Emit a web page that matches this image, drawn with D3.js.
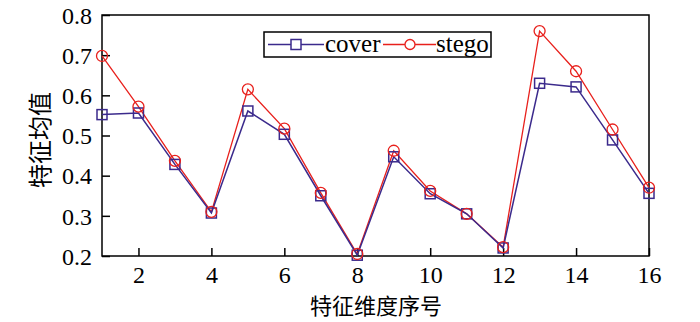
<!DOCTYPE html>
<html>
<head>
<meta charset="utf-8">
<script src="https://cdn.jsdelivr.net/npm/d3@7"></script>
<style>
  body { margin: 0; background: #fff; }
  svg { display: block; }
  .serif { font-family: "Liberation Serif", "Times New Roman", "DejaVu Serif", serif; }
  .cjk { font-family: "Noto Sans CJK SC", "Noto Sans CJK JP", sans-serif; }
</style>
</head>
<body>
<div class="line-chart-card"></div>
<script>
let dims = d3.range(1, 17);
let coverValues = [0.552, 0.556, 0.428, 0.307, 0.561, 0.503, 0.350, 0.202, 0.447, 0.355, 0.305, 0.220, 0.630, 0.621, 0.489, 0.356];
let stegoValues = [0.698, 0.572, 0.437, 0.310, 0.615, 0.517, 0.357, 0.205, 0.462, 0.362, 0.305, 0.222, 0.760, 0.660, 0.515, 0.370];
let xTicks = [2, 4, 6, 8, 10, 12, 14, 16];
let yTicks = [0.2, 0.3, 0.4, 0.5, 0.6, 0.7, 0.8];

let width = 700, height = 322;
let plotLeft = 102, plotRight = 649, plotTop = 15, plotBottom = 256;

let svg = d3.select(".line-chart-card")
    .append("svg")
    .attr("width", width)
    .attr("height", height);

let xScale = d3.scaleLinear().domain([1, 16]).range([plotLeft, plotRight]);
let yScale = d3.scaleLinear().domain([0.2, 0.8]).range([plotBottom, plotTop]);

// frame
svg.append("rect")
    .attr("x", plotLeft).attr("y", plotTop)
    .attr("width", plotRight - plotLeft).attr("height", plotBottom - plotTop)
    .attr("fill", "none").attr("stroke", "#000").attr("stroke-width", 1.5);

// axes with inward ticks
let yAxis = svg.append("g")
    .attr("transform", "translate(" + plotLeft + ",0)")
    .call(d3.axisRight(yScale).tickValues(yTicks).tickSize(8).tickFormat(d3.format(".1f")));
yAxis.attr("font-family", null).attr("font-size", null);
yAxis.select(".domain").remove();
yAxis.selectAll("line").attr("stroke-width", 1.5);
yAxis.selectAll("text")
    .attr("class", "serif")
    .attr("x", -10).attr("dy", "0.34em").attr("text-anchor", "end")
    .style("font-size", "24px").attr("fill", "#000");

let xAxis = svg.append("g")
    .attr("transform", "translate(0," + plotBottom + ")")
    .call(d3.axisTop(xScale).tickValues(xTicks).tickSize(8));
xAxis.attr("font-family", null).attr("font-size", null);
xAxis.select(".domain").remove();
xAxis.selectAll("line").attr("stroke-width", 1.5);
xAxis.selectAll("text")
    .attr("class", "serif")
    .attr("y", 27).attr("dy", 0)
    .style("font-size", "24px").attr("fill", "#000");

// axis titles
svg.append("text")
    .attr("class", "cjk")
    .attr("transform", "translate(49,140) rotate(-90)")
    .attr("text-anchor", "middle")
    .style("font-size", "24px")
    .text("特征均值");

svg.append("text")
    .attr("class", "cjk")
    .attr("x", 376).attr("y", 314)
    .attr("text-anchor", "middle")
    .style("font-size", "22px")
    .text("特征维度序号");

// lines
let coverColor = "#3b2a8c", stegoColor = "#e8201c";

let makeLine = (values) => d3.line()
    .x((d, i) => xScale(dims[i]))
    .y(d => yScale(d))(values);

svg.append("path")
    .attr("d", makeLine(stegoValues))
    .attr("fill", "none").attr("stroke", stegoColor).attr("stroke-width", 1.3);

svg.append("path")
    .attr("d", makeLine(coverValues))
    .attr("fill", "none").attr("stroke", coverColor).attr("stroke-width", 1.5);

svg.selectAll(".sq")
    .data(coverValues)
    .enter().append("rect")
    .attr("x", (d, i) => xScale(dims[i]) - 5)
    .attr("y", d => yScale(d) - 5)
    .attr("width", 10).attr("height", 10)
    .attr("fill", "none").attr("stroke", coverColor).attr("stroke-width", 1.5);

svg.selectAll(".ci")
    .data(stegoValues)
    .enter().append("circle")
    .attr("cx", (d, i) => xScale(dims[i]))
    .attr("cy", d => yScale(d))
    .attr("r", 5.5)
    .attr("fill", "none").attr("stroke", stegoColor).attr("stroke-width", 1.3);

// legend
let lg = svg.append("g");
lg.append("rect")
    .attr("x", 264).attr("y", 32).attr("width", 227).attr("height", 25)
    .attr("fill", "#fff").attr("stroke", "#000").attr("stroke-width", 1.5);
lg.append("line").attr("x1", 268).attr("x2", 324).attr("y1", 44.5).attr("y2", 44.5)
    .attr("stroke", coverColor).attr("stroke-width", 1.5);
lg.append("rect").attr("x", 291).attr("y", 39.5).attr("width", 10).attr("height", 10)
    .attr("fill", "#fff").attr("stroke", coverColor).attr("stroke-width", 1.5);
lg.append("text").attr("class", "serif").attr("x", 325).attr("y", 52)
    .style("font-size", "25px").text("cover");
lg.append("line").attr("x1", 383).attr("x2", 436).attr("y1", 44.5).attr("y2", 44.5)
    .attr("stroke", stegoColor).attr("stroke-width", 1.3);
lg.append("circle").attr("cx", 410).attr("cy", 44.5).attr("r", 5)
    .attr("fill", "#fff").attr("stroke", stegoColor).attr("stroke-width", 1.3);
lg.append("text").attr("class", "serif").attr("x", 436).attr("y", 52)
    .style("font-size", "25px").text("stego");
</script>
</body>
</html>
